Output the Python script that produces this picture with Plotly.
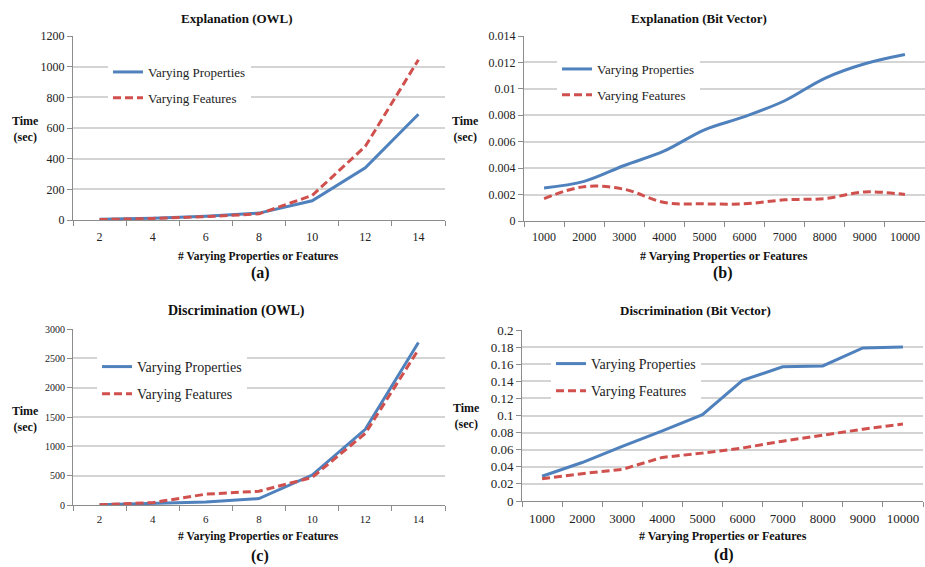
import plotly.graph_objects as go

W, H = 925, 567

# ---------------- data ----------------
owl_x = ["2", "4", "6", "8", "10", "12", "14"]
bv_x = ["1000", "2000", "3000", "4000", "5000", "6000", "7000", "8000", "9000", "10000"]

a_props = [5, 12, 25, 45, 125, 340, 690]
a_feats = [3, 10, 22, 40, 160, 480, 1045]

b_props = [0.0025, 0.0030, 0.0042, 0.0053, 0.0069, 0.0079, 0.0091, 0.0108, 0.0119, 0.0126]
b_feats = [0.0017, 0.0026, 0.0024, 0.0014, 0.0013, 0.0013, 0.0016, 0.0017, 0.0022, 0.0020]

c_props = [5, 25, 50, 110, 510, 1290, 2770]
c_feats = [5, 40, 185, 235, 470, 1220, 2650]

d_props = [0.029, 0.045, 0.064, 0.082, 0.101, 0.141, 0.157, 0.158, 0.179, 0.180]
d_feats = [0.026, 0.032, 0.037, 0.051, 0.056, 0.062, 0.070, 0.077, 0.084, 0.090]

titles = ["Explanation (OWL)", "Explanation (Bit Vector)",
          "Discrimination (OWL)", "Discrimination (Bit Vector)"]
panel_labels = ["(a)", "(b)", "(c)", "(d)"]
x_title = "# Varying Properties or Features"
y_title = "Time<br>(sec)"
series_names = ["Varying Properties", "Varying Features"]

BLUE = "#4F81BD"
RED = "#D0504D"
GRID = "#D4D4D4"
AXIS = "#8C8C8C"
FONT = "Liberation Serif"


def px(x):
    return x / W


def py(y):
    return 1 - y / H


fig = go.Figure()

panels = [
    dict(x=owl_x, p=a_props, f=a_feats, shape="linear", ax="", leg="legend",
         xd=(73, 445), yd=(36, 220), yr=[0, 1200], dt=200, tf=12, xf=12, so=6),
    dict(x=bv_x, p=b_props, f=b_feats, shape="spline", ax="2", leg="legend2",
         xd=(524, 925), yd=(36, 221), yr=[0, 0.014], dt=0.002, tf=12, xf=12, so=5),
    dict(x=owl_x, p=c_props, f=c_feats, shape="linear", ax="3", leg="legend3",
         xd=(73, 445), yd=(329, 505), yr=[0, 3000], dt=500, tf=10, xf=11, so=4),
    dict(x=bv_x, p=d_props, f=d_feats, shape="linear", ax="4", leg="legend4",
         xd=(522, 923), yd=(330, 501), yr=[0, 0.2], dt=0.02, tf=13, xf=13, so=5),
]

for i, P in enumerate(panels):
    xa = "x" + P["ax"]
    ya = "y" + P["ax"]
    fig.add_trace(go.Scatter(
        x=P["x"], y=P["p"], mode="lines", name=series_names[0],
        line=dict(color=BLUE, width=3, shape=P["shape"], smoothing=1),
        xaxis=xa, yaxis=ya, legend=P["leg"], legendgroup="p%d" % i))
    fig.add_trace(go.Scatter(
        x=P["x"], y=P["f"], mode="lines", name=series_names[1],
        line=dict(color=RED, width=3, dash="8px,4px", shape=P["shape"], smoothing=1),
        xaxis=xa, yaxis=ya, legend=P["leg"], legendgroup="f%d" % i))

    xkey = "xaxis" + P["ax"]
    ykey = "yaxis" + P["ax"]
    n = len(P["x"])
    fig.update_layout({
        xkey: dict(
            type="category", domain=[px(P["xd"][0]), min(1.0, px(P["xd"][1]))],
            range=[-0.5, n - 0.5], automargin=False, tickangle=0,
            anchor=ya, showgrid=False, showline=True, linecolor=AXIS, linewidth=1,
            ticks="outside", tickson="boundaries", ticklen=5, tickcolor=AXIS,
            tickfont=dict(family=FONT, size=P["xf"], color="#222"),
            ticklabelstandoff=P["so"], zeroline=False),
        ykey: dict(
            domain=[py(P["yd"][1]), py(P["yd"][0])], anchor=xa,
            range=P["yr"], dtick=P["dt"], tick0=0, automargin=False,
            showgrid=True, gridcolor=GRID, gridwidth=1.5,
            showline=True, linecolor=AXIS, linewidth=1,
            ticks="outside", ticklen=5, tickcolor=AXIS,
            tickfont=dict(family=FONT, size=P["tf"], color="#222"),
            zeroline=False),
    })

legend_pos = [(108, 57), (557, 54), (97, 351), (551, 348)]
legend_fonts = [13, 13, 14, 14]
for i, (lx, ly) in enumerate(legend_pos):
    key = "legend" if i == 0 else "legend%d" % (i + 1)
    fig.update_layout({key: dict(
        x=px(lx), y=py(ly), xanchor="left", yanchor="top",
        bgcolor="white", borderwidth=0, tracegroupgap=6, traceorder="grouped",
        font=dict(family=FONT, size=legend_fonts[i], color="#222"))})

annots = []


def add_text(text, x, y, size):
    annots.append(dict(text=text, x=px(x), y=py(y), xref="paper", yref="paper",
                       xanchor="center", yanchor="middle", align="center",
                       showarrow=False, font=dict(family=FONT, size=size, color="#111")))


title_pos = [(237, 18, 13), (699, 18, 13), (236, 311, 14), (695, 310, 13)]
for t, (x, y, s) in zip(titles, title_pos):
    add_text("<b>%s</b>" % t, x, y, s)

xt_pos = [(258, 256, 11.5), (724, 256, 12), (258, 536, 11.5), (723, 536, 12)]
for (x, y, s) in xt_pos:
    add_text("<b>%s</b>" % x_title, x, y, s)

lab_pos = [(260, 273), (723, 273), (260, 556), (724, 555)]
for t, (x, y) in zip(panel_labels, lab_pos):
    add_text("<b>%s</b>" % t, x, y, 16)

yt_pos = [(25, 129), (466, 129), (25, 419), (467, 416)]
for (x, y) in yt_pos:
    add_text("<b>%s</b>" % y_title, x, y, 12)

fig.update_layout(
    width=W, height=H, margin=dict(l=0, r=0, t=0, b=0, autoexpand=False),
    paper_bgcolor="white", plot_bgcolor="white",
    font=dict(family=FONT, color="#222"),
    annotations=annots, showlegend=True,
)

fig.write_html(
    "out.html",
    config={"displayModeBar": False},
    post_script="document.body.style.margin='0';document.body.style.overflow='hidden';",
)
